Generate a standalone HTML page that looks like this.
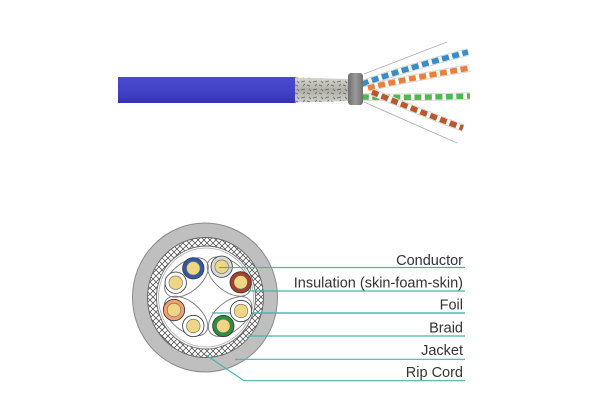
<!DOCTYPE html>
<html><head><meta charset="utf-8"><style>
html,body{margin:0;padding:0;background:#fff;}
svg{display:block;}
text{font-family:"Liberation Sans",sans-serif;font-size:14.5px;fill:#333;}
</style></head><body>
<svg width="600" height="411" viewBox="0 0 600 411" xmlns="http://www.w3.org/2000/svg">
<defs>
<pattern id="hatch" patternUnits="userSpaceOnUse" width="6" height="6">
<path d="M0,0 L6,6 M6,0 L0,6" stroke="#444" stroke-width="0.75" fill="none"/>
</pattern>
<linearGradient id="jk" x1="0" y1="0" x2="0" y2="1">
<stop offset="0" stop-color="#4a4ad0"/><stop offset="0.6" stop-color="#4141c6"/><stop offset="1" stop-color="#3333ae"/>
</linearGradient>
<linearGradient id="br" x1="0" y1="0" x2="0" y2="1">
<stop offset="0" stop-color="#d8d8d2"/><stop offset="0.5" stop-color="#b0b0a8"/><stop offset="1" stop-color="#d2d2cc"/>
</linearGradient>
<linearGradient id="band" x1="0" y1="0" x2="1" y2="0">
<stop offset="0" stop-color="#6e6e6e"/><stop offset="0.5" stop-color="#9a9a9a"/><stop offset="1" stop-color="#707070"/>
</linearGradient>
<pattern id="spk" patternUnits="userSpaceOnUse" width="12" height="8">
<path d="M1,2 l4,-1 M7,5 l3,1 M3,6 l2,-2 M9,1 l2,2" stroke="#555" stroke-width="1.1" fill="none" opacity="0.7"/>
</pattern>
</defs>

<!-- top cable -->
<rect x="118" y="77" width="178" height="26" fill="url(#jk)"/>
<path d="M295,77.5 L349,79 L349,101 L295,102.5 Z" fill="url(#br)"/>
<path d="M295,77.5 L349,79 L349,101 L295,102.5 Z" fill="url(#spk)"/>
<!-- drain wires -->
<path d="M364,74 L447,42" stroke="#b0b0b0" stroke-width="0.9" fill="none"/>
<path d="M364,102 L457,143" stroke="#b0b0b0" stroke-width="0.9" fill="none"/>
<!-- pairs -->
<g fill="none" stroke-linecap="butt">
<path d="M362,84 Q400,70 468,52" stroke="#d0d0d0" stroke-width="7.5"/>
<path d="M362,84 Q400,70 468,52" stroke="#fff" stroke-width="6"/>
<path d="M362,84 Q400,70 468,52" stroke="#3a8cc4" stroke-width="5.5" stroke-dasharray="7 3.5"/>
<path d="M362,97 Q410,98 470,96" stroke="#d0d0d0" stroke-width="7.5"/>
<path d="M362,97 Q410,98 470,96" stroke="#fff" stroke-width="6"/>
<path d="M362,97 Q410,98 470,96" stroke="#4fb84f" stroke-width="5.5" stroke-dasharray="7 3.5"/>
<path d="M368,88 Q400,80 470,68" stroke="#d0d0d0" stroke-width="7.5"/>
<path d="M368,88 Q400,80 470,68" stroke="#fff" stroke-width="6"/>
<path d="M368,88 Q400,80 470,68" stroke="#e8803a" stroke-width="5.5" stroke-dasharray="7 3.5"/>
<path d="M372,92 Q410,108 463,128" stroke="#d0d0d0" stroke-width="7.5"/>
<path d="M372,92 Q410,108 463,128" stroke="#fff" stroke-width="6"/>
<path d="M372,92 Q410,108 463,128" stroke="#b8582c" stroke-width="5.5" stroke-dasharray="7 3.5"/>
</g>
<rect x="348" y="73" width="15" height="32" rx="3" fill="url(#band)"/>

<!-- cross section -->
<ellipse cx="205" cy="297.5" rx="72.5" ry="74.5" fill="#bfbfbf" stroke="#8a8a8a" stroke-width="1"/>
<ellipse cx="205.5" cy="297.5" rx="58" ry="60" fill="#fff"/>
<ellipse cx="205.5" cy="297.5" rx="58" ry="60" fill="url(#hatch)" stroke="#666" stroke-width="0.9"/>
<ellipse cx="206" cy="297.5" rx="49.5" ry="51.5" fill="#fff" stroke="#666" stroke-width="0.9"/>
<ellipse cx="206" cy="297.5" rx="47.5" ry="49.5" fill="none" stroke="#aaa" stroke-width="0.8"/>

<!-- foil line (under conductors) -->
<path d="M212,313 L465,313" stroke="#45b5ad" stroke-width="1.2"/>

<!-- pair outlines -->
<g fill="none" stroke="#777" stroke-width="0.9">
<ellipse cx="186.5" cy="277.5" rx="25.5" ry="14.5" transform="rotate(-39.3 186.5 277.5)"/>
<ellipse cx="229" cy="276.5" rx="25.5" ry="14.5" transform="rotate(39.4 229 276.5)"/>
<ellipse cx="186" cy="316" rx="25.5" ry="14.5" transform="rotate(39.7 186 316)"/>
<ellipse cx="230" cy="316.5" rx="25.5" ry="14.5" transform="rotate(-40.3 230 316.5)"/>
</g>

<!-- conductors -->
<g stroke="#333" stroke-width="0.8">
<circle cx="193.3" cy="268.3" r="10.7" fill="#2d5ba8"/>
<circle cx="175.7" cy="282.7" r="10.7" fill="#fff"/>
<circle cx="221.7" cy="266.7" r="10.7" fill="#d9d9d9"/>
<circle cx="240.7" cy="282.3" r="10.7" fill="#a63e28"/>
<circle cx="174" cy="310" r="10.7" fill="#f0a06c"/>
<circle cx="193.3" cy="326" r="10.7" fill="#fff"/>
<circle cx="223.3" cy="326" r="10.7" fill="#2e8e3e"/>
<circle cx="241" cy="311" r="10.7" fill="#fff"/>
</g>
<g fill="#efd684" stroke="#666" stroke-width="0.6">
<circle cx="193.3" cy="268.3" r="6.8"/>
<circle cx="175.7" cy="282.7" r="6.8"/>
<circle cx="221.7" cy="266.7" r="6.8"/>
<circle cx="240.7" cy="282.3" r="6.8"/>
<circle cx="174" cy="310" r="6.8"/>
<circle cx="193.3" cy="326" r="6.8"/>
<circle cx="223.3" cy="326" r="6.8"/>
<circle cx="241" cy="311" r="6.8"/>
</g>

<!-- leader lines on top -->
<g stroke="#45b5ad" stroke-width="1.2" fill="none">
<path d="M219,267.5 L465,267.5"/>
<path d="M248,291 L465,291"/>
<path d="M252,313 L465,313"/>
<path d="M248,336 L465,336"/>
<path d="M235,359.3 L465,359.3"/>
<path d="M206,355 L244,380.7 L465,380.7"/>
</g>

<!-- labels -->
<g text-anchor="end">
<text x="463" y="265">Conductor</text>
<text x="463" y="287.5">Insulation (skin-foam-skin)</text>
<text x="463" y="309.5">Foil</text>
<text x="463" y="332.5">Braid</text>
<text x="463" y="355">Jacket</text>
<text x="463" y="377">Rip Cord</text>
</g>
</svg>
</body></html>
